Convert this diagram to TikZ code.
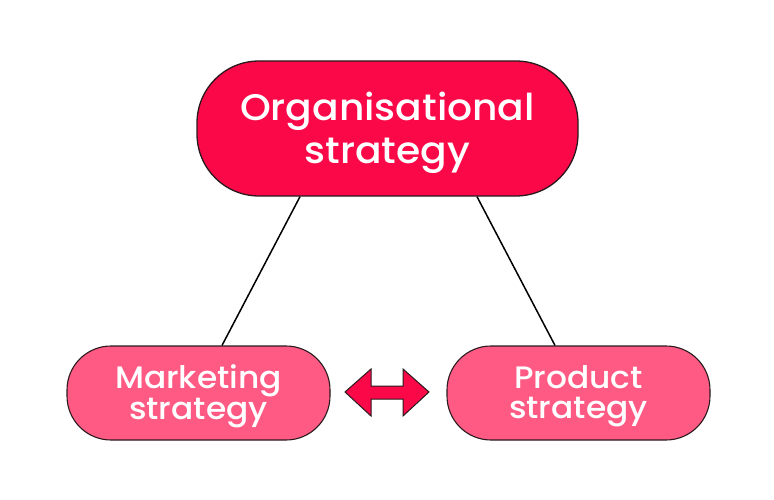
\documentclass[tikz,border=0pt]{standalone}
\usepackage{fontspec}
\setmainfont{Poppins}[UprightFont=* Medium]
\usetikzlibrary{calc}
\definecolor{topred}{HTML}{FA0848}
\definecolor{subpink}{HTML}{FF5A84}
\definecolor{edge}{HTML}{2A1A1E}
\newcommand{\wide}[1]{\scalebox{1.06}[1]{#1}}
\begin{document}
\begin{tikzpicture}[x=1pt,y=-1pt,
  topbox/.style={draw=edge, line width=1.3pt, fill=topred, rounded corners=62pt,
    minimum width=381pt, minimum height=135pt, inner sep=0pt},
  toptext/.style={text=white, align=center, inner sep=0pt,
    font=\fontsize{37}{43}\selectfont},
  subbox/.style={draw=edge, line width=1.1pt, fill=subpink, rounded corners=44pt,
    minimum width=263pt, minimum height=94pt, inner sep=0pt},
  subtext/.style={text=white, align=center, inner sep=0pt,
    font=\fontsize{31}{29.5}\selectfont},
  link/.style={draw=black, line width=1.5pt}]
\useasboundingbox (0,0) rectangle (774,500);
\node[topbox] (org) at (387.5,128.5) {};
\node[subbox] (mkt) at (198.5,393) {};
\node[subbox] (prd) at (578.5,393) {};
\node[toptext] (orgt) at ([yshift=-4pt]org.center) {\wide{Organisational}\\\wide{strategy}};
\node[subtext] (mktt) at ([yshift=-3pt]mkt.center) {\wide{Marketing}\\\wide{strategy}};
\node[subtext] (prdt) at ([yshift=-3pt]prd.center) {\wide{Product}\\\wide{strategy}};
\draw[link] ([xshift=-87.5pt]org.south) -- ([xshift=23.5pt]mkt.north);
\draw[link] ([xshift=89.5pt]org.south) -- ([xshift=-23.5pt]prd.north);
\coordinate (dl) at (345,392);
\coordinate (dr) at (429,392);
\draw[draw=edge, line width=1pt, fill=topred, line join=miter]
  (dl) -- (371,369) -- (371,386) -- (403,386) -- (403,369) -- (dr)
  -- (403,416) -- (403,399) -- (371,399) -- (371,416) -- cycle;
\end{tikzpicture}
\end{document}
